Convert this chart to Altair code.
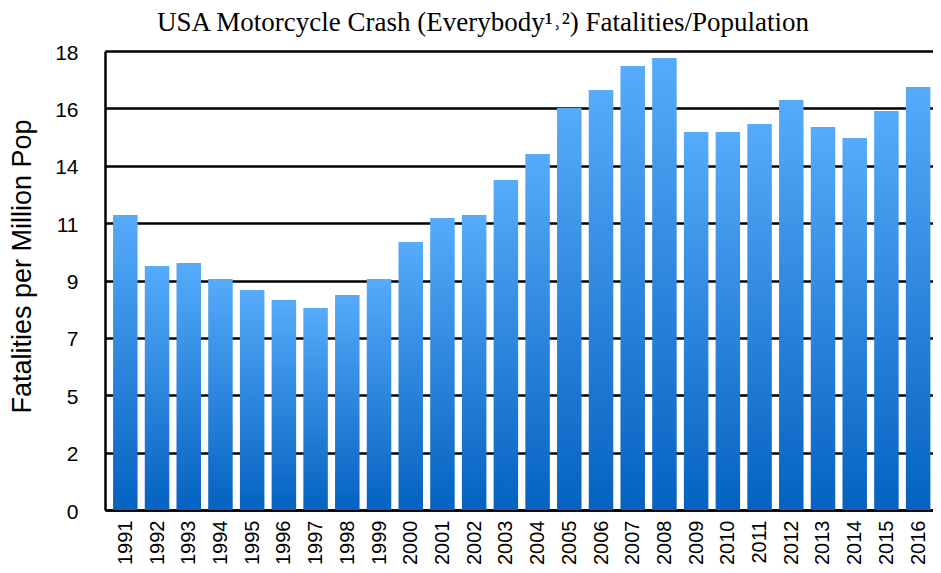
import altair as alt
import pandas as pd

years = [1991, 1992, 1993, 1994, 1995, 1996, 1997, 1998, 1999, 2000, 2001, 2002, 2003,
         2004, 2005, 2006, 2007, 2008, 2009, 2010, 2011, 2012, 2013, 2014, 2015, 2016]
rates = [11.57, 9.57, 9.69, 9.06, 8.63, 8.24, 7.92, 8.43, 9.06, 10.51, 11.45, 11.57, 12.94,
         13.96, 15.76, 16.47, 17.41, 17.73, 14.82, 14.82, 15.14, 16.08, 15.02, 14.59, 15.65, 16.59]
y_ticks = [0, 2.25, 4.5, 6.75, 9, 11.25, 13.5, 15.75, 18]

df = pd.DataFrame({"year": years, "rate": rates})

grad = alt.Gradient(
    gradient="linear",
    stops=[alt.GradientStop(color="#56ABFA", offset=0),
           alt.GradientStop(color="#0462C0", offset=1)],
    x1=0, x2=0, y1=0, y2=1,
)

chart = alt.Chart(df).mark_bar(width=24.5, clip=True, color=grad).encode(
    x=alt.X("year:Q",
            scale=alt.Scale(domain=[1990.517, 2016.311], nice=False, zero=False),
            axis=alt.Axis(values=years, format="d", title=None, grid=False,
                          ticks=False, tickSize=0, labelAngle=270,
                          labelAlign="right", labelBaseline="middle",
                          labelPadding=10, labelFont="Liberation Sans",
                          labelFontSize=20, labelColor="#000000",
                          domainColor="#000000", domainWidth=2.5,
                          labelOverlap=False, labelFlush=False)),
    y=alt.Y("rate:Q",
            scale=alt.Scale(domain=[0, 18], nice=False),
            axis=alt.Axis(values=y_ticks, format=".0f",
                          title="Fatalities per Million Pop",
                          titleFont="Liberation Sans", titleFontSize=27,
                          titleFontWeight="normal", titleColor="#000000",
                          titleAngle=270, titleAlign="center",
                          titleBaseline="middle", titleX=-83, titleY=215,
                          grid=True, gridColor="#000000", gridWidth=2.5,
                          gridOpacity=1,
                          ticks=False, tickSize=0, labelPadding=27,
                          labelFont="Liberation Sans", labelFontSize=21,
                          labelColor="#000000", labelOffset=2,
                          domainColor="#000000", domainWidth=2.5,
                          labelOverlap=False)),
).properties(
    width=828,
    height=459,
    autosize=alt.AutoSizeParams(type="none"),
    padding={"left": 97, "top": 43, "right": 0, "bottom": 55},
    title=alt.TitleParams(
        "USA Motorcycle Crash (Everybody¹˒²) Fatalities/Population",
        font="Liberation Serif", fontSize=27, fontWeight="normal",
        color="#000000", anchor="middle", dx=-36, offset=5,
    ),
).configure_view(stroke=None)

chart.save("out.html", embed_options={"renderer": "svg", "actions": False})
